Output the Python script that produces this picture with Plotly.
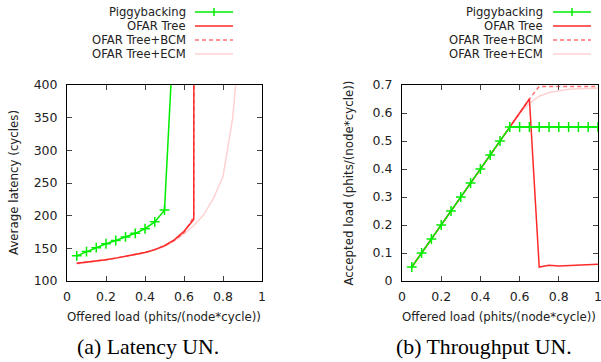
import plotly.graph_objects as go

W, H = 601, 362

# ---------------- data ----------------
load = [0.05, 0.10, 0.15, 0.20, 0.25, 0.30, 0.35, 0.40, 0.45, 0.50,
        0.55, 0.60, 0.65, 0.70, 0.75, 0.80, 0.85, 0.90, 0.95, 1.00]

# latency (cycles)
lat_pig_x = [0.05, 0.10, 0.15, 0.20, 0.25, 0.30, 0.35, 0.40, 0.45, 0.50, 0.55]
lat_pig = [138.5, 145, 151, 157, 162, 167.5, 173, 180, 190.5, 208.5, 500]

lat_ofar_x = [0.05, 0.10, 0.15, 0.20, 0.25, 0.30, 0.35, 0.40, 0.45, 0.50, 0.55, 0.60, 0.65, 0.66]
lat_ofar = [127, 128.5, 130, 132.5, 135, 137.5, 140, 143.5, 148, 154, 163, 176, 194, 5000]

lat_bcm_x = [0.05, 0.10, 0.15, 0.20, 0.25, 0.30, 0.35, 0.40, 0.45, 0.50, 0.55, 0.60, 0.65, 0.66]
lat_bcm = [127, 128.5, 130, 132.5, 135, 137.5, 140, 143.5, 148, 154, 162, 174, 198, 3000]

lat_ecm_x = [0.05, 0.10, 0.15, 0.20, 0.25, 0.30, 0.35, 0.40, 0.45, 0.50, 0.55, 0.60, 0.65,
             0.70, 0.75, 0.80, 0.85, 0.90]
lat_ecm = [126, 128, 130, 132.5, 135, 137.5, 140, 143.5, 147.5, 153, 161, 172, 185,
           201, 226, 260, 350, 520]

# accepted load (phits/(node*cycle))
thr_pig = [0.05, 0.10, 0.15, 0.20, 0.25, 0.30, 0.35, 0.40, 0.45, 0.50,
           0.55, 0.55, 0.55, 0.55, 0.55, 0.55, 0.55, 0.55, 0.55, 0.55]
thr_ofar = [0.05, 0.10, 0.15, 0.20, 0.25, 0.30, 0.35, 0.40, 0.45, 0.50,
            0.55, 0.60, 0.65, 0.05, 0.056, 0.054, 0.056, 0.058, 0.06, 0.06]
thr_bcm = [0.05, 0.10, 0.15, 0.20, 0.25, 0.30, 0.35, 0.40, 0.45, 0.50,
           0.55, 0.60, 0.65, 0.695, 0.695, 0.695, 0.695, 0.695, 0.695, 0.695]
thr_ecm = [0.05, 0.10, 0.15, 0.20, 0.25, 0.30, 0.35, 0.40, 0.45, 0.50,
           0.55, 0.598, 0.635, 0.66, 0.673, 0.68, 0.685, 0.687, 0.688, 0.688]

x_ticks = [0, 0.2, 0.4, 0.6, 0.8, 1]
x_tick_text = ["0", "0.2", "0.4", "0.6", "0.8", "1"]
lat_ticks = [100, 150, 200, 250, 300, 350, 400]
thr_ticks = [0, 0.1, 0.2, 0.3, 0.4, 0.5, 0.6, 0.7]
thr_tick_text = ["0", "0.1", "0.2", "0.3", "0.4", "0.5", "0.6", "0.7"]

names = ["Piggybacking", "OFAR Tree", "OFAR Tree+BCM", "OFAR Tree+ECM"]

# ---------------- styles ----------------
GREEN = "#00ee00"
RED = "#ff2a2a"
DASH_RED = "#ff7070"
PALE = "#ffd2d2"
SANS = "DejaVu Sans"


def px(x):
    return x / W


def py(y):
    return 1 - y / H


fig = go.Figure()

marker_style = dict(symbol="cross-thin", size=7, line=dict(color=GREEN, width=1.5))

# left subplot: latency
fig.add_trace(go.Scatter(x=lat_ecm_x, y=lat_ecm, mode="lines", line=dict(color=PALE, width=1.5),
                         xaxis="x", yaxis="y", showlegend=False))
fig.add_trace(go.Scatter(x=lat_bcm_x, y=lat_bcm, mode="lines",
                         line=dict(color=DASH_RED, width=1.5, dash="4px,3px"),
                         xaxis="x", yaxis="y", showlegend=False))
fig.add_trace(go.Scatter(x=lat_ofar_x, y=lat_ofar, mode="lines", line=dict(color=RED, width=1.5),
                         xaxis="x", yaxis="y", showlegend=False))
fig.add_trace(go.Scatter(x=lat_pig_x, y=lat_pig, mode="lines+markers",
                         line=dict(color=GREEN, width=1.5), marker=marker_style,
                         xaxis="x", yaxis="y", showlegend=False))

# right subplot: throughput
fig.add_trace(go.Scatter(x=load, y=thr_ecm, mode="lines", line=dict(color=PALE, width=1.5),
                         xaxis="x2", yaxis="y2", showlegend=False))
fig.add_trace(go.Scatter(x=load, y=thr_bcm, mode="lines",
                         line=dict(color=DASH_RED, width=1.5, dash="4px,3px"),
                         xaxis="x2", yaxis="y2", showlegend=False))
fig.add_trace(go.Scatter(x=load, y=thr_ofar, mode="lines", line=dict(color=RED, width=1.5),
                         xaxis="x2", yaxis="y2", showlegend=False))
fig.add_trace(go.Scatter(x=load, y=thr_pig, mode="lines+markers",
                         line=dict(color=GREEN, width=1.5), marker=marker_style,
                         xaxis="x2", yaxis="y2", showlegend=False))

axis_common = dict(showline=True, linecolor="black", linewidth=1, mirror="allticks",
                   ticks="inside", ticklen=5, tickwidth=1, tickcolor="#444",
                   showgrid=False, zeroline=False, automargin=False,
                   ticklabeloverflow="allow",
                   tickfont=dict(family=SANS, size=12.5, color="#222"))

y_dom = [py(281), py(85)]
fig.update_layout(
    width=W, height=H, margin=dict(l=0, r=0, t=0, b=0, autoexpand=False),
    paper_bgcolor="white", plot_bgcolor="white", showlegend=False,
    xaxis=dict(domain=[px(67), px(262)], range=[0, 1], tickvals=x_ticks, ticktext=x_tick_text,
               anchor="y", ticklabelstandoff=4, **axis_common),
    yaxis=dict(domain=y_dom, range=[100, 400], tickvals=lat_ticks, anchor="x",
               ticklabelstandoff=6, **axis_common),
    xaxis2=dict(domain=[px(402), px(598)], range=[0, 1], tickvals=x_ticks, ticktext=x_tick_text,
                anchor="y2", ticklabelstandoff=4, **axis_common),
    yaxis2=dict(domain=y_dom, range=[0, 0.7], tickvals=thr_ticks, ticktext=thr_tick_text,
                anchor="x2", ticklabelstandoff=6, **axis_common),
)

annotations = []
shapes = []


def ann(text, x, y, size=11.8, family=SANS, angle=0, xanchor="center", color="#222"):
    annotations.append(dict(text=text, x=px(x), y=py(y), xref="paper", yref="paper",
                            showarrow=False, textangle=angle, xanchor=xanchor, yanchor="middle",
                            font=dict(family=family, size=size, color=color)))


# axis titles
ann("Average latency (cycles)", 14, 183, angle=-90)
ann("Accepted load (phits/(node*cycle))", 349, 183.5, angle=-90)
ann("Offered load (phits/(node*cycle))", 164, 317)
ann("Offered load (phits/(node*cycle))", 499, 317)
# captions
ann("(a) Latency UN.", 148, 347, size=21.8, family="Liberation Serif", color="black")
ann("(b) Throughput UN.", 484, 347, size=21.8, family="Liberation Serif", color="black")

# manual legends (text right-aligned, sample on the right)
legend_rows = [12, 26, 40, 54]
legend_styles = [dict(color=GREEN, width=1.5), dict(color=RED, width=1.5),
                 dict(color=DASH_RED, width=1.5, dash="4px,3px"), dict(color=PALE, width=1.5)]
for text_right, x0, x1 in [(188, 195, 233), (545, 553, 591)]:
    for name, yrow, st in zip(names, legend_rows, legend_styles):
        ann(name, text_right, yrow, size=11.6, xanchor="right")
        shapes.append(dict(type="line", xref="paper", yref="paper",
                           x0=px(x0), x1=px(x1), y0=py(yrow), y1=py(yrow), line=st))
    xm = (x0 + x1) / 2
    shapes.append(dict(type="line", xref="paper", yref="paper",
                       x0=px(xm), x1=px(xm), y0=py(legend_rows[0] - 4), y1=py(legend_rows[0] + 4),
                       line=dict(color=GREEN, width=1.5)))

fig.update_layout(annotations=annotations, shapes=shapes)

fig.write_html("out.html", config={"displayModeBar": False},
               post_script="document.body.style.margin='0';document.body.style.overflow='hidden';")
